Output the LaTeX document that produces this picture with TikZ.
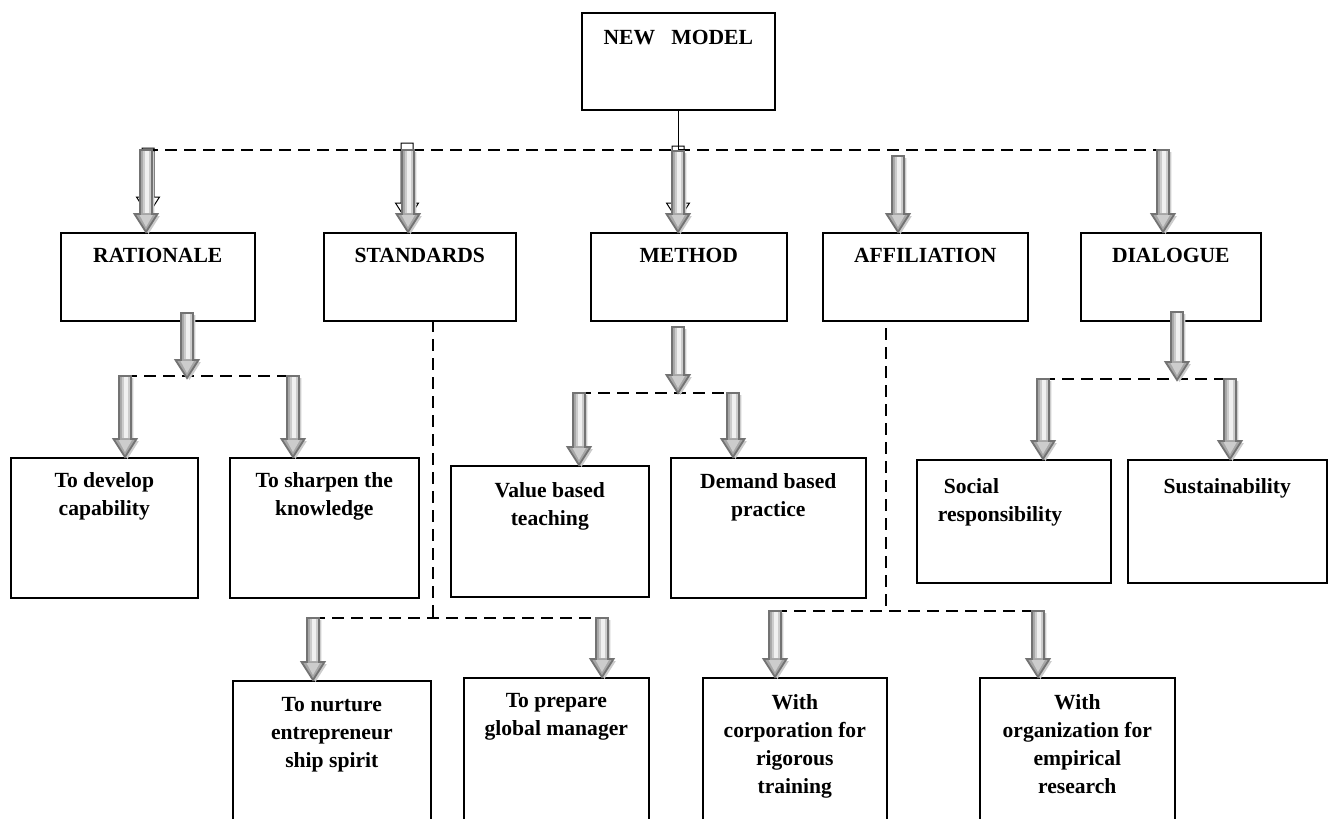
\documentclass[tikz,border=0pt]{standalone}
\usepackage{fontspec}
\setmainfont{Liberation Serif}
\usepackage{tikz}
\usetikzlibrary{calc}
\tikzstyle{whitebox}=[rectangle,draw=black,fill=white,line width=0.8pt,anchor=north west,
                      font=\fontsize{10.8}{14}\selectfont\bfseries,inner sep=0pt]
\tikzstyle{dashline}=[draw=black,line width=1.1pt,dash pattern=on 6pt off 3.5pt]
\tikzstyle{fatarrow}=[draw=black!55,line width=0.9pt,fill=gray!70,
                      preaction={fill=black!20,transform canvas={xshift=1.2pt,yshift=-1pt}}]
\tikzstyle{ghostarrow}=[draw=black,line width=0.5pt]
\newcommand\boxlabel[4][7.5pt]{\parbox[c][#3][t]{#2}{\centering\vspace*{#1}#4}}
\newcommand\blockarrow[3][fatarrow]{%
  \path[#1] let \p1=#2, \p2=#3 in
    (\x1-3pt,\y1) -- (\x1+3pt,\y1) -- (\x1+3pt,\y2+9pt) -- (\x1+5.75pt,\y2+9pt)
    -- (\x1,\y2) -- (\x1-5.75pt,\y2+9pt) -- (\x1-3pt,\y2+9pt) -- cycle;}
\newcommand\fatarrow[2]{%
  \blockarrow{#1}{#2}
  \fill[gray!40] let \p1=#1, \p2=#2 in
    (\x1-1.6pt,\y1-0.6pt) rectangle (\x1+2.4pt,\y2+9.4pt)
    (\x1-3.2pt,\y2+8.4pt) -- (\x1+3.4pt,\y2+8.4pt) -- (\x1,\y2+2.5pt) -- cycle;
  \fill[gray!12] let \p1=#1, \p2=#2 in
    (\x1-0.6pt,\y1-0.6pt) rectangle (\x1+1.4pt,\y2+9.6pt);}

\begin{document}
\begin{tikzpicture}[x=0.5pt,y=-0.5pt]
    \clip (0,0) rectangle (1329,819);
    % top
    \node [whitebox] (Model) at (581,12) {\boxlabel[8.5pt]{96.5pt}{48.5pt}{NEW\ \ \ MODEL}};
    % first level
    \node [whitebox] (Rationale) at (60,232) {\boxlabel{97pt}{44pt}{RATIONALE}};
    \node [whitebox] (Standards) at (323,232) {\boxlabel{96pt}{44pt}{STANDARDS}};
    \node [whitebox] (Method) at (590,232) {\boxlabel{98pt}{44pt}{METHOD}};
    \node [whitebox] (Affiliation) at (822,232) {\boxlabel{102.5pt}{44pt}{AFFILIATION}};
    \node [whitebox] (Dialogue) at (1080,232) {\boxlabel{90pt}{44pt}{DIALOGUE}};
    % second level
    \node [whitebox] (Develop) at (10,457) {\boxlabel{93.5pt}{70pt}{To develop\\capability}};
    \node [whitebox] (Sharpen) at (229,457) {\boxlabel{94.5pt}{70pt}{To sharpen the\\knowledge}};
    \node [whitebox] (Value) at (450,465) {\boxlabel[8.5pt]{99pt}{65.5pt}{Value based\\teaching}};
    \node [whitebox] (Demand) at (670,457) {\boxlabel[8pt]{97.5pt}{70pt}{Demand based\\practice}};
    \node [whitebox] (Social) at (916,459) {\boxlabel[9.5pt]{97pt}{61.5pt}{%
        \raggedright\leftskip=10.5pt\relax\hspace*{3pt}Social\\responsibility}};
    \node [whitebox] (Sustain) at (1127,459) {\boxlabel[9.5pt]{99.5pt}{61.5pt}{Sustainability}};
    % third level
    \node [whitebox] (Nurture) at (232,680) {\boxlabel[8.5pt]{99pt}{80pt}{To nurture\\entrepreneur\\ship spirit}};
    \node [whitebox] (Prepare) at (463,677) {\boxlabel[8pt]{92.5pt}{80pt}{To prepare\\global manager}};
    \node [whitebox] (Corporation) at (702,677) {\boxlabel[8.5pt]{92pt}{80pt}{With\\corporation for\\rigorous\\training}};
    \node [whitebox] (Organization) at (979,677) {\boxlabel[8.5pt]{97.5pt}{80pt}{With\\organization for\\empirical\\research}};

    % junction points
    \coordinate (tR) at (146,150);
    \coordinate (tS) at (408,150);
    \coordinate (tM) at (678,151);
    \coordinate (tA) at (898,156);
    \coordinate (tD) at (1163,150);
    \coordinate (rD) at (187,313);  \coordinate (rJ) at (187,378);
    \coordinate (rL) at (125,376);  \coordinate (rR) at (293,376);
    \coordinate (mD) at (678,327);  \coordinate (mJ) at (678,393);
    \coordinate (mL) at (579,393);  \coordinate (mR) at (733,393);
    \coordinate (dD) at (1177,312); \coordinate (dJ) at (1177,380);
    \coordinate (dL) at (1043,379); \coordinate (dR) at (1230,379);
    \coordinate (sT) at (433,320);  \coordinate (sB) at (433,618);
    \coordinate (sL) at (313,618);  \coordinate (sR) at (602,618);
    \coordinate (aT) at (886,328);  \coordinate (aB) at (886,611);
    \coordinate (aL) at (775,611);  \coordinate (aR) at (1038,611);
    \coordinate (gR) at (148,148);  \coordinate (gRtip) at (148,215);
    \coordinate (gS) at (407,143);  \coordinate (gStip) at (407,221);
    \coordinate (gM) at (678,146);  \coordinate (gMtip) at (678,221);

    % connectors
    \draw [line width=0.8pt] (Model.south) -- (Model.south |- tR);
    \draw [dashline] (tR) -- (tD);
    \draw [dashline] (rL) -- (rR);
    \draw [dashline] (mL) -- (mR);
    \draw [dashline] (dL) -- (dR);
    \draw [dashline] (sT) -- (sB);
    \draw [dashline] (sL) -- (sR);
    \draw [dashline] (aT) -- (aB);
    \draw [dashline] (aL) -- (aR);

    \blockarrow[ghostarrow]{(gR)}{(gRtip)}
    \blockarrow[ghostarrow]{(gS)}{(gStip)}
    \blockarrow[ghostarrow]{(gM)}{(gMtip)}

    \fatarrow{(tR)}{(Rationale.north)}
    \fatarrow{(tS)}{(Standards.north)}
    \fatarrow{(tM)}{(Method.north)}
    \fatarrow{(tA)}{(Affiliation.north)}
    \fatarrow{(tD)}{(Dialogue.north)}
    \fatarrow{(rD)}{(rJ)}
    \fatarrow{(rL)}{(Develop.north)}
    \fatarrow{(rR)}{(Sharpen.north)}
    \fatarrow{(mD)}{(mJ)}
    \fatarrow{(mL)}{(Value.north)}
    \fatarrow{(mR)}{(Demand.north)}
    \fatarrow{(dD)}{(dJ)}
    \fatarrow{(dL)}{(Social.north)}
    \fatarrow{(dR)}{(Sustain.north)}
    \fatarrow{(sL)}{(Nurture.north)}
    \fatarrow{(sR)}{(Prepare.north)}
    \fatarrow{(aL)}{(Corporation.north)}
    \fatarrow{(aR)}{(Organization.north)}
\end{tikzpicture}
\end{document}
